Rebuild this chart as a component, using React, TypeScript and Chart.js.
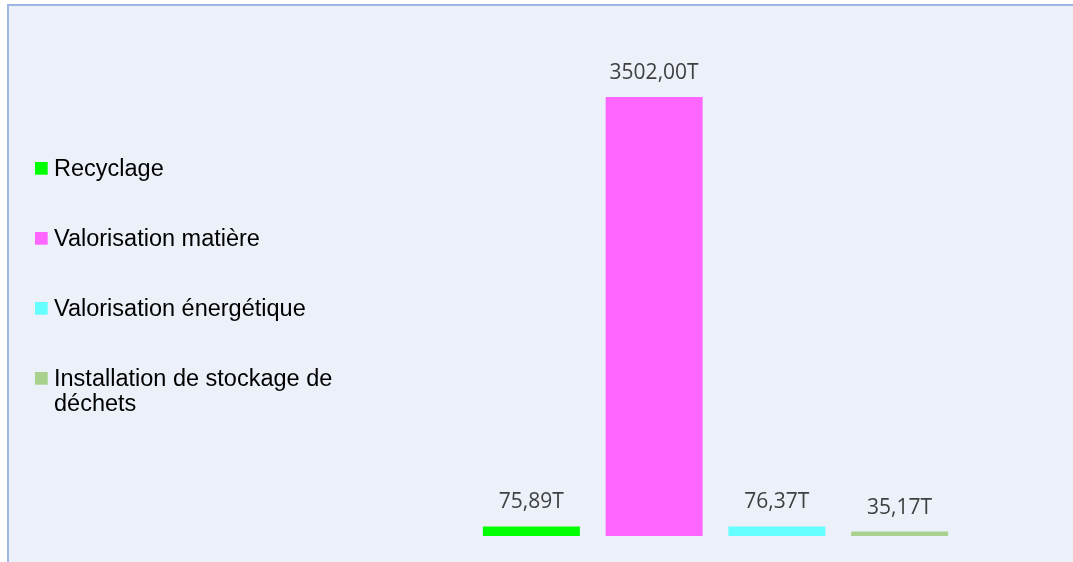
import React, { useEffect, useRef } from "react";
import { Chart, registerables } from "chart.js";

Chart.register(...registerables);

const seriesNames = [
  "Recyclage",
  "Valorisation matière",
  "Valorisation énergétique",
  "Installation de stockage de déchets",
];
const legendLines = [
  ["Recyclage"],
  ["Valorisation matière"],
  ["Valorisation énergétique"],
  ["Installation de stockage de", "déchets"],
];
const seriesValues = [75.89, 3502.0, 76.37, 35.17];
const valueLabels = ["75,89T", "3502,00T", "76,37T", "35,17T"];
const seriesColors = ["#00FF00", "#FF66FF", "#66FFFF", "#A9D18E"];

const labelsPlugin = {
  id: "valueLabels",
  afterDatasetsDraw(chart: any) {
    const ctx = chart.ctx;
    ctx.save();
    ctx.font = "21px 'Open Sans'";
    ctx.fillStyle = "#404040";
    ctx.textAlign = "center";
    ctx.textBaseline = "alphabetic";
    chart.data.datasets.forEach((ds: any, i: number) => {
      const meta = chart.getDatasetMeta(i);
      const el = meta.data[0];
      if (!el) return;
      ctx.fillText(valueLabels[i], el.x, el.y - 18);
    });
    ctx.restore();
  },
};

const legendPlugin = {
  id: "sideLegend",
  afterDraw(chart: any) {
    const ctx = chart.ctx;
    ctx.save();
    ctx.font = "23.5px 'Liberation Sans', Arial, sans-serif";
    ctx.textBaseline = "alphabetic";
    ctx.textAlign = "left";
    const boxX = 26;
    const textX = 45;
    const firstBaseline = 170;
    const rowStep = 70;
    const lineH = 25.3;
    legendLines.forEach((lines, i) => {
      const base = firstBaseline + i * rowStep;
      ctx.fillStyle = seriesColors[i];
      ctx.fillRect(boxX, base - 14, 12.7, 12.7);
      ctx.fillStyle = "#000000";
      lines.forEach((ln, j) => {
        ctx.fillText(ln, textX, base + j * lineH);
      });
    });
    ctx.restore();
  },
};

export default function App() {
  const ref = useRef<HTMLCanvasElement | null>(null);

  useEffect(() => {
    if (!ref.current) return;
    const chart = new Chart(ref.current, {
      type: "bar",
      data: {
        labels: [""],
        datasets: seriesNames.map((name, i) => ({
          label: name,
          data: [seriesValues[i]],
          backgroundColor: seriesColors[i],
          borderWidth: 0,
          categoryPercentage: 1,
          barPercentage: 0.79,
        })),
      },
      options: {
        animation: false,
        responsive: false,
        maintainAspectRatio: false,
        layout: { padding: { left: 461, right: 112, top: 28.6, bottom: 26 } },
        plugins: {
          legend: { display: false },
          tooltip: { enabled: false },
        },
        scales: {
          x: { display: false, grid: { display: false } },
          y: { display: false, min: 0, max: 4000, grid: { display: false } },
        },
      },
      plugins: [labelsPlugin, legendPlugin],
    });
    return () => chart.destroy();
  }, []);

  return (
    <div
      style={{
        position: "fixed",
        left: 7,
        top: 4,
        width: 1066,
        height: 558,
        boxSizing: "border-box",
        borderLeft: "2px solid #9DB6E2",
        borderTop: "2px solid #9DB6E2",
        background: "#EBF0F9",
        overflow: "hidden",
      }}
    >
      <canvas ref={ref} width={1064} height={556} style={{ display: "block" }} />
    </div>
  );
}
